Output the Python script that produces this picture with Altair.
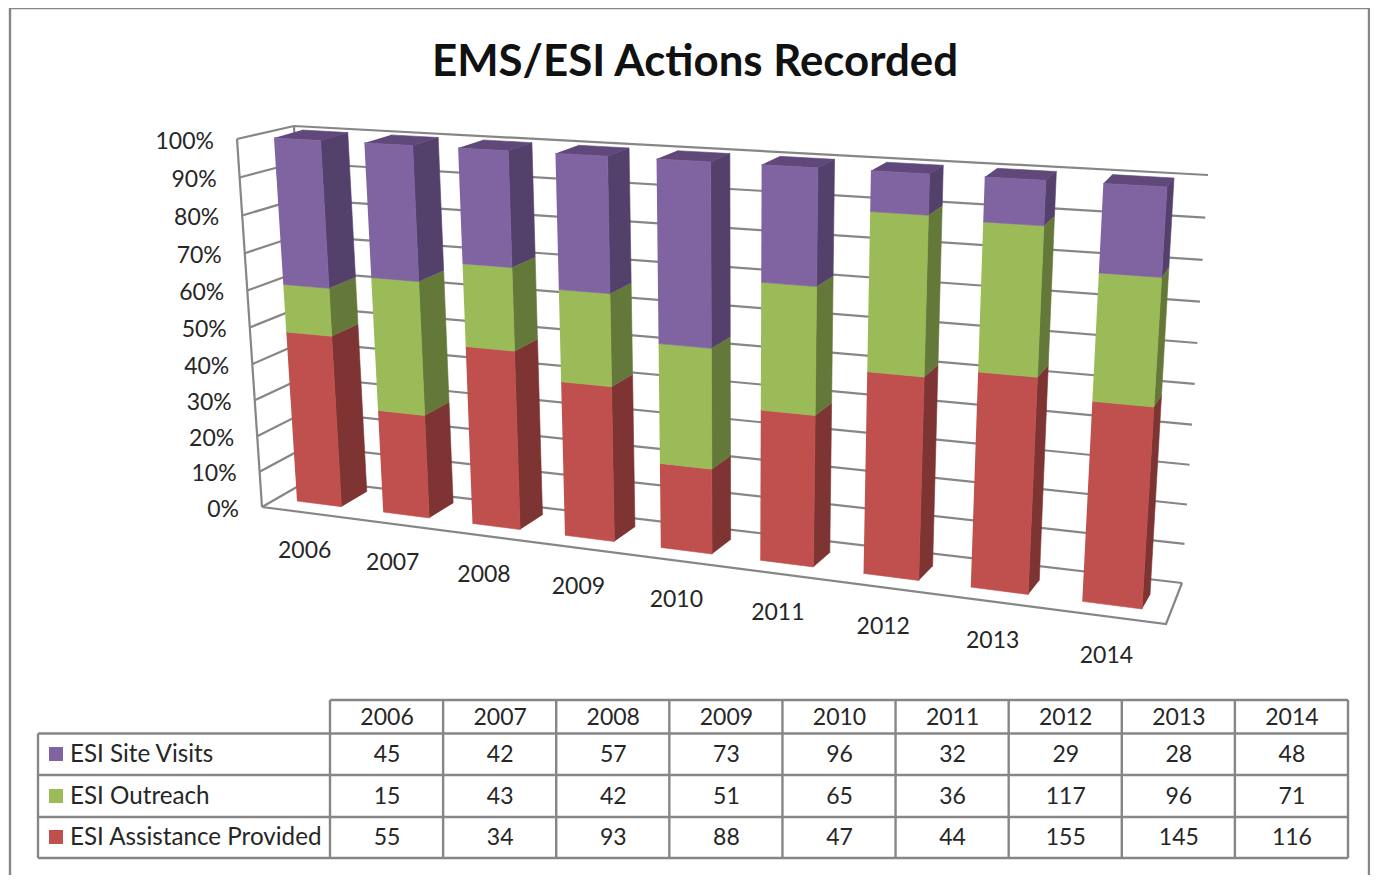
import numpy as np
import pandas as pd
import altair as alt

years = [2006, 2007, 2008, 2009, 2010, 2011, 2012, 2013, 2014]
site_visits = [45, 42, 57, 73, 96, 32, 29, 28, 48]
outreach = [15, 43, 42, 51, 65, 36, 117, 96, 71]
assistance = [55, 34, 93, 88, 47, 44, 155, 145, 116]
series_names = ["ESI Site Visits", "ESI Outreach", "ESI Assistance Provided"]
pct_ticks = [0, 10, 20, 30, 40, 50, 60, 70, 80, 90, 100]
title_text = "EMS/ESI Actions Recorded"

FONT = "Lato"
GREY = "#868686"
TEXT = "#262626"
FRONT = {"site": "#8064A2", "out": "#9BBB59", "ast": "#C0504D"}
SIDE = {"site": "#53416C", "out": "#64783A", "ast": "#7D3432"}
TOP = "#60497A"


def quad(bl, tl, br, tr):
    """Projective map of the unit square onto a quadrilateral."""
    (x0, y0), (x1, y1), (x2, y2), (x3, y3) = bl, br, tr, tl
    dx1, dx2, sx = x1 - x2, x3 - x2, x0 - x1 + x2 - x3
    dy1, dy2, sy = y1 - y2, y3 - y2, y0 - y1 + y2 - y3
    det = dx1 * dy2 - dx2 * dy1
    g = (sx * dy2 - dx2 * sy) / det
    h = (dx1 * sy - sx * dy1) / det
    a, b, c = x1 - x0 + g * x1, x3 - x0 + h * x3, x0
    d, e, f = y1 - y0 + g * y1, y3 - y0 + h * y3, y0

    def project(u, v):
        w = g * u + h * v + 1
        return (a * u + b * v + c) / w, (d * u + e * v + f) / w

    return project


bar_front = quad((297, 501), (274, 138), (1142, 609), (1167, 187))
_bar_back = quad((323, 486), (302, 130), (1150, 595), (1174, 178))
wall_back = quad((309, 480), (294, 126), (1182, 583), (1208, 175))


def bar_back(u, v):
    """Rear face of the bars: same plane, slightly wider mid-run."""
    return _bar_back(u + 0.014 * u * (1 - u), v)


def wall_edge(v, r=1.05):
    """Front edge of the left wall, slightly foreshortened."""
    t = v / (v + (1 - v) * r)
    return 262 + (237 - 262) * t, 507 + (139 - 507) * t


BAR_W = 0.52
SPAN = len(years) - 1 + BAR_W

polys = []


def add_poly(pid, pts, fill):
    for k, (x, y) in enumerate(pts):
        polys.append({"poly": pid, "k": k, "x": x, "y": y, "fill": fill})


for i, yr in enumerate(years):
    total = assistance[i] + outreach[i] + site_visits[i]
    u0, u1 = i / SPAN, (i + BAR_W) / SPAN
    base = 0.0
    stack = [("ast", assistance[i]), ("out", outreach[i]), ("site", site_visits[i])]
    for key, val in stack:
        v0, v1 = base / total, (base + val) / total
        base += val
        add_poly(f"{yr}-{key}-side",
                 [bar_front(u1, v0), bar_front(u1, v1), bar_back(u1, v1), bar_back(u1, v0)],
                 SIDE[key])
    add_poly(f"{yr}-top",
             [bar_front(u0, 1), bar_front(u1, 1), bar_back(u1, 1), bar_back(u0, 1)], TOP)
    base = 0.0
    for key, val in stack:
        v0, v1 = base / total, (base + val) / total
        base += val
        add_poly(f"{yr}-{key}-front",
                 [bar_front(u0, v0), bar_front(u1, v0), bar_front(u1, v1), bar_front(u0, v1)],
                 FRONT[key])

poly_df = pd.DataFrame(polys)

# gridlines and walls
grid = []
for t in pct_ticks:
    v = t / 100
    for k, p in enumerate([wall_edge(v), wall_back(0, v), wall_back(1, v)]):
        grid.append({"line": f"g{t}", "k": k, "x": p[0], "y": p[1]})
for name, pts in {
    "left": [wall_edge(0), wall_edge(1)],
    "back": [wall_back(0, 0), wall_back(0, 1)],
    "floor": [wall_edge(0), (1166, 624), wall_back(1, 0)],
}.items():
    for k, p in enumerate(pts):
        grid.append({"line": name, "k": k, "x": p[0], "y": p[1]})
grid_df = pd.DataFrame(grid)

# axis texts
pct_df = pd.DataFrame([
    {"label": f"{t}%", "x": wall_edge(t / 100)[0] - 23, "y": wall_edge(t / 100)[1] + 2.5}
    for t in pct_ticks
])
yr_rows = []
for i, yr in enumerate(years):
    uc = (i + BAR_W / 2) / SPAN
    px, py = bar_front(uc, 0)
    yr_rows.append({"label": str(yr), "x": px - 10 + (uc - 0.5) * 9.5, "y": py + 47.5 + uc * 3})
yr_df = pd.DataFrame(yr_rows)

# data table
col_edges = np.linspace(330, 1348, len(years) + 1)
row_edges = [700, 733.5, 775, 817, 858]
row_mid = [718, 755, 797, 838]
tbl_rules = []
tbl_rules.append({"x": 330, "x2": 1348, "y": row_edges[0], "y2": row_edges[0]})
for y in row_edges[1:]:
    tbl_rules.append({"x": 38, "x2": 1348, "y": y, "y2": y})
tbl_rules.append({"x": 38, "x2": 38, "y": row_edges[1], "y2": row_edges[-1]})
for x in col_edges:
    tbl_rules.append({"x": x, "x2": x, "y": row_edges[0], "y2": row_edges[-1]})
tbl_df = pd.DataFrame(tbl_rules)

cells = []
centers = (col_edges[:-1] + col_edges[1:]) / 2 + 0.5
for i, yr in enumerate(years):
    cells.append({"label": str(yr), "x": centers[i], "y": row_mid[0]})
    for r, vals in enumerate([site_visits, outreach, assistance]):
        cells.append({"label": str(vals[i]), "x": centers[i], "y": row_mid[r + 1]})
cell_df = pd.DataFrame(cells)

name_df = pd.DataFrame({"label": series_names, "x": [70] * 3, "y": row_mid[1:]})
key_df = pd.DataFrame({
    "x": [49] * 3, "x2": [63] * 3,
    "y": [m - 8 for m in row_mid[1:]], "y2": [m + 6 for m in row_mid[1:]],
    "fill": [FRONT["site"], FRONT["out"], FRONT["ast"]],
})
frame_df = pd.DataFrame({"x": [10, 10, 1369], "x2": [1369, 10, 1369],
                         "y": [8, 8, 8], "y2": [8, 875, 875]})

X = alt.X("x:Q", scale=alt.Scale(domain=[8, 1370], nice=False, zero=False), axis=None)
Y = alt.Y("y:Q", scale=alt.Scale(domain=[875, 8], nice=False, zero=False), axis=None)

frame = alt.Chart(frame_df).mark_rule(color=GREY, strokeWidth=2.4).encode(
    x=X, y=Y, x2="x2:Q", y2="y2:Q")
grid_lines = alt.Chart(grid_df).mark_line(color=GREY, strokeWidth=2.2).encode(
    x=X, y=Y, detail="line:N", order="k:Q")
faces = alt.Chart(poly_df).mark_line(strokeWidth=0.6).encode(
    x=X, y=Y, detail="poly:N", order="k:Q",
    fill=alt.Fill("fill:N", scale=None, legend=None),
    stroke=alt.Stroke("fill:N", scale=None, legend=None))
tbl = alt.Chart(tbl_df).mark_rule(color=GREY, strokeWidth=2.4).encode(
    x=X, y=Y, x2="x2:Q", y2="y2:Q")
keys = alt.Chart(key_df).mark_rect().encode(
    x=X, y=Y, x2="x2:Q", y2="y2:Q", fill=alt.Fill("fill:N", scale=None, legend=None))


def text_layer(df, align, size=23):
    return alt.Chart(df).mark_text(
        font=FONT, fontSize=size, color=TEXT, align=align, baseline="middle"
    ).encode(x=X, y=Y, text="label:N")


chart = alt.layer(
    frame, grid_lines, faces, tbl, keys,
    text_layer(pct_df, "right"),
    text_layer(yr_df, "center"),
    text_layer(cell_df, "center"),
    text_layer(name_df, "left", size=24.2),
).properties(
    width=1362, height=867, padding=0, autosize="none",
    title=alt.TitleParams(
        title_text, font=FONT, fontSize=43.8, fontWeight="bold", color="#111111",
        anchor="middle", frame="group", baseline="middle", offset=0, dy=99.5, dx=6,
    ),
).configure_view(stroke=None)

chart.save("out.html", embed_options={"renderer": "svg", "actions": False})
